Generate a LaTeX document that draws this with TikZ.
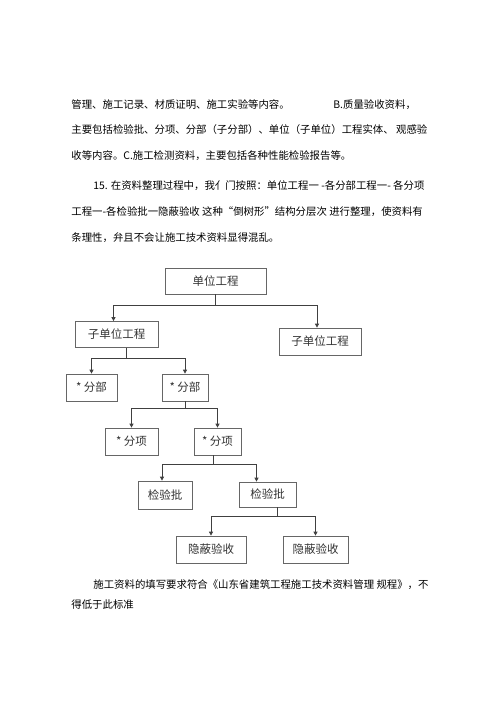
\documentclass[tikz,border=0pt]{standalone}
\usepackage{fontspec}
\usepackage{tikz}
\usetikzlibrary{arrows.meta}
\newfontfamily\cjk{Noto Sans CJK SC}

\begin{document}
\begin{tikzpicture}[x=1pt,y=-1pt,->,>={Triangle[length=4pt,width=4pt]},draw=black!75,line width=0.8pt]
    \tikzstyle{box}=[draw=black!60,line width=0.7pt,minimum height=26pt,inner sep=0pt,text=black!80,font=\cjk\fontsize{11.5}{13}\selectfont]
    \tikzstyle{para}=[anchor=west,inner sep=0pt,font=\cjk\fontsize{10.4}{12}\selectfont]

    \useasboundingbox (0,0) rectangle (500,707);

    % Text above the chart
    \node[para] (p1) at (71,105) {管理、施工记录、材质证明、施工实验等内容。};
    \node[para] (p1b) at (333,105) {B.质量验收资料，};
    \node[para] (p2) at (71,130) {主要包括检验批、分项、分部（子分部）、单位（子单位）工程实体、 观感验};
    \node[para] (p3) at (71,156) {收等内容。C.施工检测资料，主要包括各种性能检验报告等。};
    \node[para] (p4) at (93,186) {15. 在资料整理过程中，我亻门按照：单位工程一 -各分部工程一- 各分项};
    \node[para] (p5) at (71,212) {工程一-各检验批一隐蔽验收 这种“倒树形”结构分层次 进行整理，使资料有};
    \node[para] (p6) at (71,238) {条理性，弁且不会让施工技术资料显得混乱。};

    % The tree
    \node[box,minimum width=101pt] (top) at (215.5,281) {单位工程};
    \node[box,minimum width=83pt] (sub1) at (116.5,334.5) {子单位工程};
    \node[box,minimum width=82pt,minimum height=27pt] (sub2) at (320,341.5) {子单位工程};
    \node[box,minimum width=51pt,minimum height=27pt] (fb1) at (91.5,387.5) {* 分部};
    \node[box,minimum width=46pt,minimum height=27pt] (fb2) at (185,387.5) {* 分部};
    \node[box,minimum width=53pt,minimum height=27pt] (fx1) at (131.5,441.5) {* 分项};
    \node[box,minimum width=47pt,minimum height=27pt] (fx2) at (217.5,441.5) {* 分项};
    \node[box,minimum width=54pt,minimum height=28pt] (jy1) at (165,495) {检验批};
    \node[box,minimum width=57pt,minimum height=25pt] (jy2) at (267.5,494.5) {检验批};
    \node[box,minimum width=70pt,minimum height=27pt] (yb1) at (211,549.5) {隐蔽验收};
    \node[box,minimum width=65pt,minimum height=27pt] (yb2) at (315.5,549.5) {隐蔽验收};

    % Connect every box with the boxes below it
    \draw (top.south) -- ++(0,11) -| ([xshift=-3pt]sub1.north);
    \draw (top.south) -- ++(0,11) -| ([xshift=-3pt]sub2.north);
    \foreach \dest in {fb1,fb2}
        \draw ([xshift=10pt]sub1.south) -- ++(0,11) -| (\dest.north);
    \foreach \dest in {fx1,fx2}
        \draw (fb2.south) -- ++(0,7) -| (\dest.north);
    \draw ([xshift=-4pt]fx2.south) -- ++(0,9) -| ([xshift=-3pt]jy1.north);
    \draw ([xshift=-4pt]fx2.south) -- ++(0,9) -| ([xshift=-11pt]jy2.north);
    \foreach \dest in {yb1,yb2}
        \draw ([xshift=9.5pt]jy2.south) -- ++(0,9) -| (\dest.north);

    % Text below the chart
    \node[para] (q1) at (93,585) {施工资料的填写要求符合《山东省建筑工程施工技术资料管理 规程》，不};
    \node[para] (q2) at (71,605) {得低于此标准};
\end{tikzpicture}
\end{document}
